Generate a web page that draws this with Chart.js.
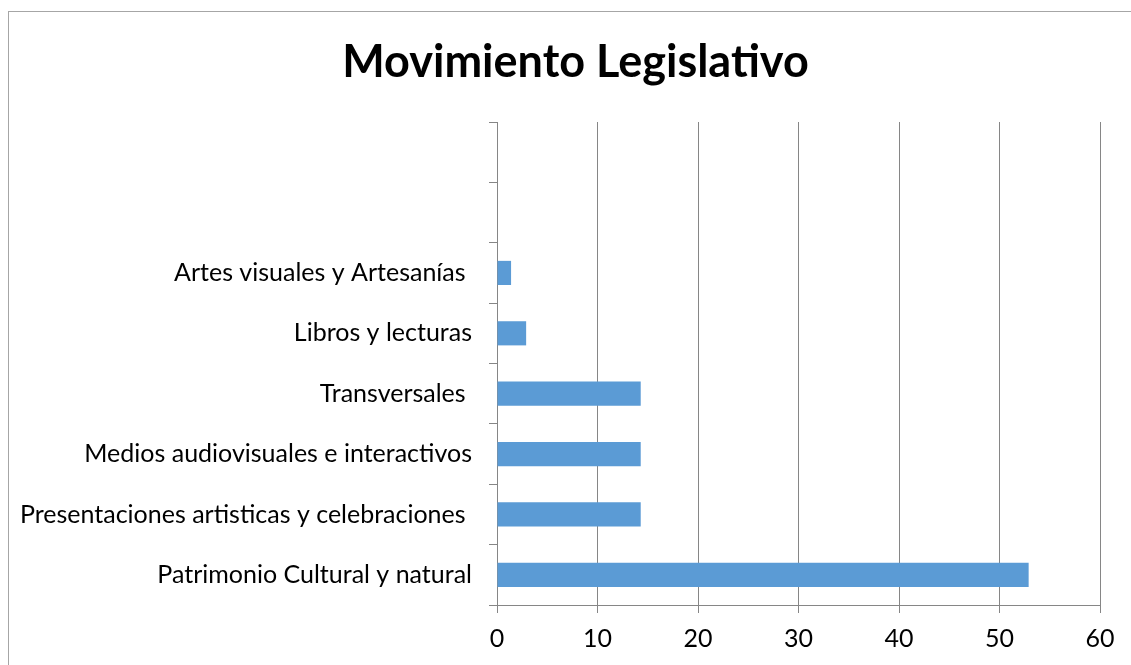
<!DOCTYPE html>
<html lang="es">
<head>
  <meta charset="UTF-8" />
  <title>Movimiento Legislativo</title>
  <script src="https://cdn.jsdelivr.net/npm/chart.js"></script>
  <style>
    html, body {
      margin: 0;
      padding: 0;
      background: #fff;
      overflow: hidden;
    }
    #wrap {
      position: relative;
      width: 1131px;
      height: 665px;
      overflow: hidden;
    }
    #frame {
      position: absolute;
      left: 8px;
      top: 11px;
      width: 1200px;
      height: 700px;
      border: 1px solid #a6a6a6;
      box-sizing: border-box;
    }
    canvas {
      position: absolute;
      left: 0;
      top: 0;
    }
  </style>
</head>
<body>
  <div id="wrap">
    <div id="frame"></div>
    <!-- canvas a bit wider than the window so the title centres like the original -->
    <canvas id="chart" width="1151" height="665"></canvas>
  </div>

  <script>
    // categories top to bottom (two empty slots at top, as in the original)
    const categorias = [
      '',
      '',
      'Artes visuales y Artesanías ',
      'Libros y lecturas',
      'Transversales ',
      'Medios audiovisuales e interactivos',
      'Presentaciones artisticas y celebraciones ',
      'Patrimonio Cultural y natural'
    ];
    const valores = [null, null, 1.4, 2.9, 14.3, 14.3, 14.3, 52.9];
    const ticksX = [0, 10, 20, 30, 40, 50, 60];

    const fuente = "Lato, 'Open Sans', sans-serif";
    const gris = '#868686';

    const ctx = document.getElementById('chart').getContext('2d');
    new Chart(ctx, {
      type: 'bar',
      data: {
        labels: categorias,
        datasets: [{
          label: 'Movimiento Legislativo',
          data: valores,
          backgroundColor: '#5b9bd5',
          borderWidth: 0,
          barPercentage: 0.4,
          categoryPercentage: 1
        }]
      },
      options: {
        indexAxis: 'y',
        responsive: false,
        animation: false,
        layout: { padding: 0 },
        plugins: {
          legend: { display: false },
          tooltip: { enabled: false },
          title: {
            display: true,
            text: 'Movimiento Legislativo',
            color: '#000',
            font: { family: fuente, size: 45, weight: 'bold', lineHeight: 1.2 },
            padding: { top: 35, bottom: 33 }
          }
        },
        scales: {
          x: {
            min: ticksX[0],
            max: ticksX[ticksX.length - 1],
            afterBuildTicks: function(scale) {
              scale.ticks = ticksX.map(v => ({ value: v }));
            },
            afterFit: function(scale) { scale.height = 60; },
            grid: {
              color: gris,
              lineWidth: 1,
              tickLength: 8,
              drawTicks: true
            },
            border: { color: gris, width: 1 },
            ticks: {
              color: '#000',
              font: { family: fuente, size: 25 },
              padding: 11
            }
          },
          y: {
            afterFit: function(scale) { scale.width = 497; },
            grid: {
              drawOnChartArea: false,
              color: gris,
              tickLength: 8,
              offset: true
            },
            border: { color: gris, width: 1 },
            ticks: {
              color: '#000',
              font: { family: fuente, size: 25 },
              padding: 17,
              autoSkip: false
            }
          },
          // empty right-hand axis, only reserves the white margin on the right
          margen: {
            type: 'linear',
            position: 'right',
            afterFit: function(scale) { scale.width = 51; },
            grid: { display: false, drawTicks: false },
            border: { display: false },
            ticks: { display: false }
          }
        }
      }
    });
  </script>
</body>
</html>
